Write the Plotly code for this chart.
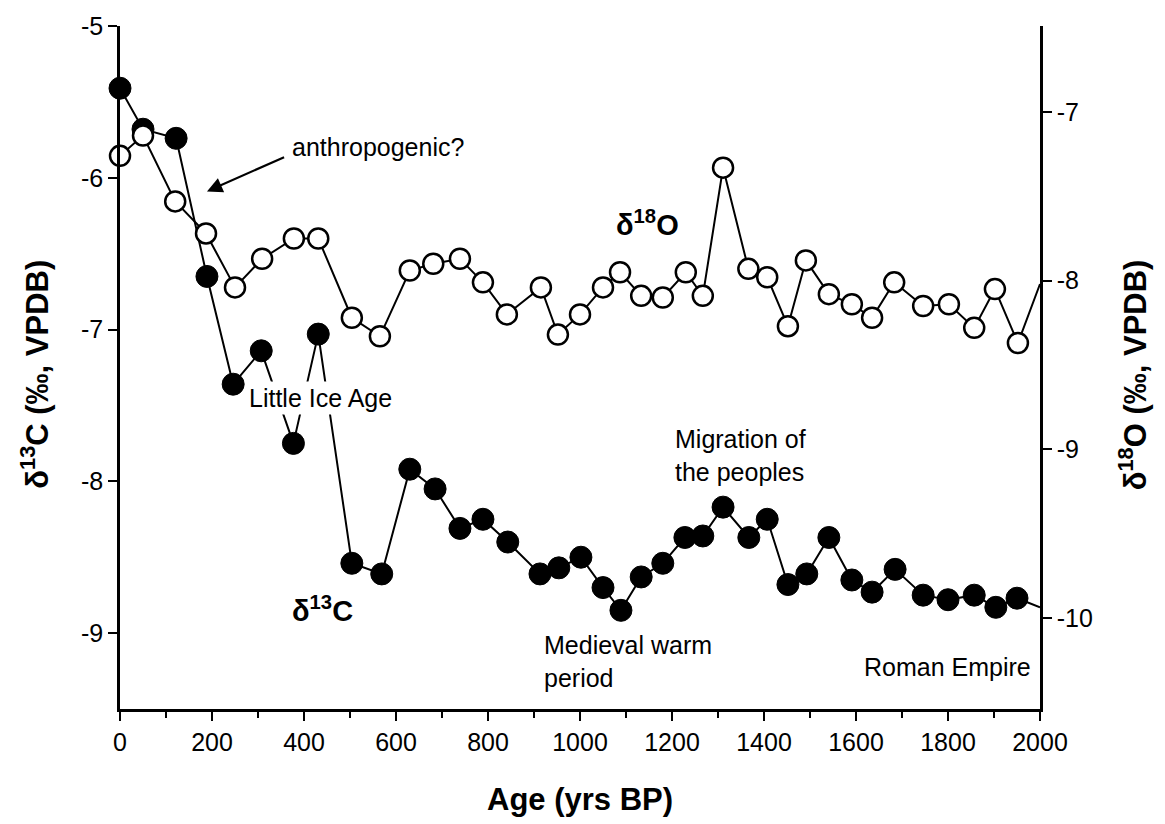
import plotly.graph_objects as go

# ---- data ----
age_c = [0, 50, 122, 189, 246, 307, 377, 431, 504, 569, 630, 685, 739, 789, 843,
         913, 954, 1002, 1050, 1089, 1133, 1180, 1228, 1267, 1311, 1367, 1407, 1452,
         1493, 1541, 1591, 1635, 1685, 1746, 1800, 1857, 1904, 1950, 2000]
d13c = [-5.41, -5.68, -5.74, -6.65, -7.36, -7.14, -7.75, -7.03, -8.54, -8.61, -7.92,
        -8.05, -8.31, -8.25, -8.40, -8.61, -8.57, -8.50, -8.70, -8.85, -8.63, -8.54,
        -8.37, -8.36, -8.17, -8.37, -8.25, -8.68, -8.61, -8.37, -8.65, -8.73, -8.58,
        -8.75, -8.78, -8.75, -8.83, -8.77, -8.83]

age_o = [0, 50, 120, 187, 250, 309, 378, 431, 504, 565, 630, 681, 739, 789, 841,
         915, 952, 1000, 1050, 1087, 1133, 1180, 1230, 1267, 1311, 1366, 1407, 1452,
         1491, 1541, 1591, 1635, 1683, 1746, 1802, 1857, 1902, 1952, 2000]
d18o = [-7.26, -7.14, -7.53, -7.72, -8.04, -7.87, -7.75, -7.75, -8.22, -8.33, -7.94,
        -7.90, -7.87, -8.01, -8.20, -8.04, -8.32, -8.20, -8.04, -7.95, -8.09, -8.10,
        -7.95, -8.09, -7.33, -7.93, -7.98, -8.27, -7.88, -8.08, -8.14, -8.22, -8.01,
        -8.15, -8.14, -8.28, -8.05, -8.37, -8.02]

x_ticks = [0, 200, 400, 600, 800, 1000, 1200, 1400, 1600, 1800, 2000]
left_ticks = [-5, -6, -7, -8, -9]
right_ticks = [-7, -8, -9, -10]

# last value of each series is only the line end at the axis (no marker)
size_c = [22] * (len(age_c) - 1) + [0]
size_o = [20] * (len(age_o) - 1) + [0]

FONT = "Liberation Sans, Arial, sans-serif"

fig = go.Figure()
fig.add_trace(go.Scatter(
    x=age_c, y=d13c, mode="lines+markers", yaxis="y", cliponaxis=False,
    line=dict(color="black", width=2),
    marker=dict(size=size_c, color="black", opacity=1,
                line=dict(color="black", width=1)),
    showlegend=False))
fig.add_trace(go.Scatter(
    x=age_o, y=d18o, mode="lines+markers", yaxis="y2", cliponaxis=False,
    line=dict(color="black", width=2),
    marker=dict(size=size_o, color="white", opacity=1,
                line=dict(color="black", width=2.5)),
    showlegend=False))

axis_common = dict(showgrid=False, zeroline=False, showline=True, linecolor="black",
                   linewidth=2.5, ticks="outside", ticklen=9, tickwidth=2,
                   tickcolor="black", tickfont=dict(family=FONT, size=25, color="black"))

fig.update_layout(
    width=1165, height=824,
    margin=dict(l=120, r=125, t=24, b=115),
    paper_bgcolor="white", plot_bgcolor="white",
    xaxis=dict(range=[0, 2000], tickvals=x_ticks, ticktext=[str(v) for v in x_ticks],
               minor=dict(dtick=100, ticks="outside", ticklen=6, tickwidth=1.5,
                          tickcolor="black"),
               **axis_common),
    yaxis=dict(range=[-9.5, -5], tickvals=left_ticks,
               ticktext=[str(v) for v in left_ticks], **axis_common),
    yaxis2=dict(range=[-10.54, -6.49], tickvals=right_ticks,
                ticktext=[str(v) for v in right_ticks], overlaying="y", side="right",
                **axis_common),
)

ann_font = dict(family=FONT, size=25, color="black")
bold_font = dict(family=FONT, size=29, color="black", weight="bold")

fig.add_annotation(x=370, y=-5.80, xref="x", yref="y", text="anthropogenic?",
                   showarrow=False, xanchor="left", yanchor="middle", font=ann_font)
fig.add_annotation(x=189, y=-6.09, ax=360, ay=-5.86, xref="x", yref="y",
                   axref="x", ayref="y", text="", showarrow=True, arrowhead=2,
                   arrowsize=1.4, arrowwidth=2.2, arrowcolor="black")
fig.add_annotation(x=1146, y=-6.30, xref="x", yref="y", text="δ<sup>18</sup>O",
                   showarrow=False, font=bold_font)
fig.add_annotation(x=435, y=-7.45, xref="x", yref="y", text="Little Ice Age",
                   showarrow=False, font=ann_font, bgcolor="white", borderpad=2)
fig.add_annotation(x=441, y=-8.84, xref="x", yref="y", text="δ<sup>13</sup>C",
                   showarrow=False, font=bold_font)
fig.add_annotation(x=1202, y=-7.83, xref="x", yref="y",
                   text="Migration of<br>the peoples", align="left",
                   showarrow=False, xanchor="left", font=ann_font)
fig.add_annotation(x=917, y=-9.19, xref="x", yref="y",
                   text="Medieval warm<br>period", align="left",
                   showarrow=False, xanchor="left", font=ann_font)
fig.add_annotation(x=1985, y=-9.22, xref="x", yref="y", text="Roman Empire",
                   showarrow=False, xanchor="right", font=ann_font)

# axis titles
title_font = dict(family=FONT, size=31, color="black", weight="bold")
fig.add_annotation(x=-0.092, y=0.49, xref="paper", yref="paper",
                   text="δ<sup>13</sup>C (‰, VPDB)", textangle=-90,
                   xanchor="center", yanchor="middle",
                   showarrow=False, font=title_font)
fig.add_annotation(x=1.101, y=0.49, xref="paper", yref="paper",
                   text="δ<sup>18</sup>O (‰, VPDB)", textangle=-90,
                   xanchor="center", yanchor="middle",
                   showarrow=False, font=title_font)
fig.add_annotation(x=0.5, y=-0.133, xref="paper", yref="paper",
                   text="Age (yrs BP)", showarrow=False, font=title_font,
                   xanchor="center", yanchor="middle")

fig.write_html("out.html")
